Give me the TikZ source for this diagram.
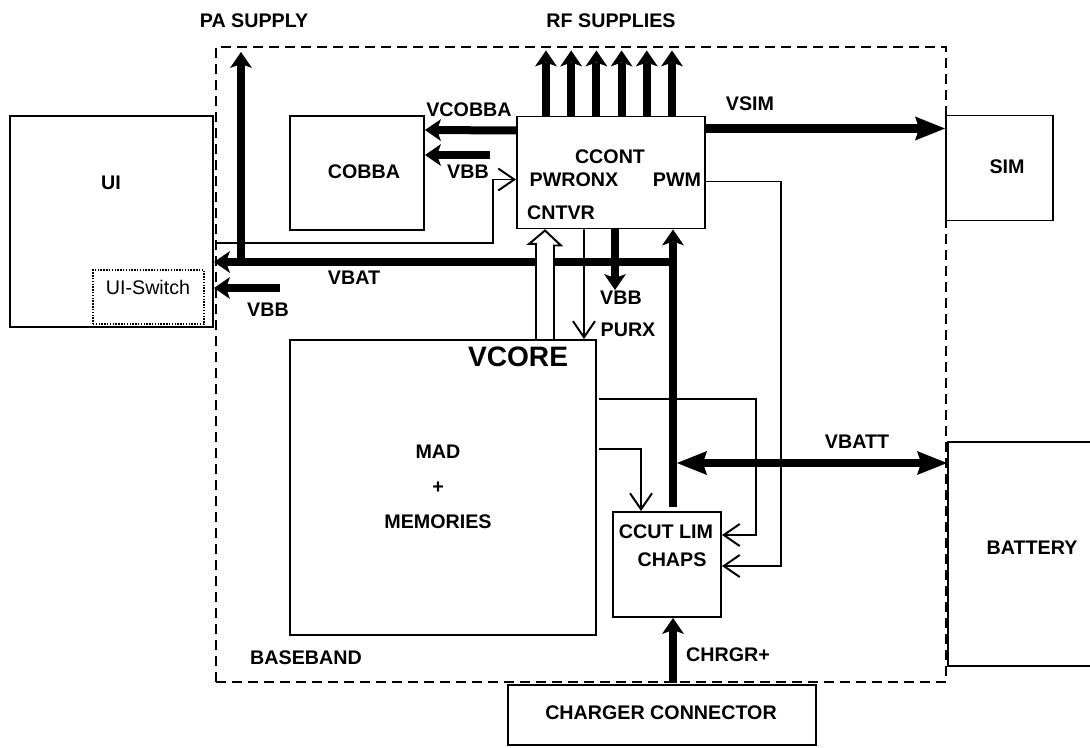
\documentclass[tikz,border=0pt]{standalone}
\usepackage{fontspec}
\setmainfont{Liberation Sans}
\usetikzlibrary{arrows.meta, positioning, calc}
\tikzset{
  blk/.style    = {draw, line width=1.4pt, inner sep=0pt},
  lbl/.style    = {font=\bfseries\fontsize{14}{16}\selectfont, inner sep=0pt},
  pwr/.style    = {line width=0.2cm,
                   -{Stealth[length=0.4cm, width=0.55cm, inset=0.1cm, line width=0pt]}},
  bigpwr/.style = {line width=0.2cm,
                   -{Stealth[length=0.75cm, width=0.6cm, inset=0.1cm, line width=0pt]}},
  twopwr/.style = {line width=0.2cm,
                   {Stealth[length=0.75cm, width=0.6cm, inset=0.1cm, line width=0pt]}-%
                   {Stealth[length=0.75cm, width=0.6cm, inset=0.1cm, line width=0pt]}},
  sig/.style    = {line width=1.4pt, -{Straight Barb[length=0.4cm, width=0.55cm]}},
}

\begin{document}
\begin{tikzpicture}[x=0.025cm, y=-0.025cm]
\useasboundingbox (0,0) rectangle (1090,748);

%% ── boxes ───────────────────────────────────────────────────────────────────
\node[draw, line width=1.6pt, dash pattern=on 0.25cm off 0.15cm, inner sep=0pt,
      minimum width=18.25cm, minimum height=15.875cm] (bb) at (581,364.5) {};
\node[blk, minimum width=5.075cm, minimum height=5.275cm] (ui)    at (111.5,221.5) {};
\node[draw, line width=1pt, dash pattern=on 1pt off 1pt, inner sep=0pt,
      minimum width=2.775cm, minimum height=1.35cm]        (uisw)  at (148.5,297) {};
\node[blk, minimum width=3.35cm, minimum height=2.85cm]    (cobba) at (357,173) {};
\node[blk, minimum width=4.7cm, minimum height=2.8cm]      (ccont) at (611,172.5) {};
\node[blk, minimum width=2.675cm, minimum height=2.625cm]  (sim)   at (999.5,168) {};
\node[blk, minimum width=7.65cm, minimum height=7.375cm]   (mad)   at (443,487.5) {};
\node[blk, minimum width=2.7cm, minimum height=2.625cm]    (ccut)  at (667,564.5) {};
\node[blk, minimum width=4.2cm, minimum height=5.6cm]      (bat)   at (1032,554) {};
\node[blk, minimum width=7.7cm, minimum height=1.5cm]      (chg)   at (662,715) {};

%% ── box texts ───────────────────────────────────────────────────────────────
\node[lbl] (uitxt)    at (111,183) {UI};
\node[font=\fontsize{14}{16}\selectfont, inner sep=0pt] (uiswtxt) at (148,287) {UI-Switch};
\node[lbl] (cobbatxt) at (364,172) {COBBA};
\node[lbl] (cconttxt) at (610,157) {CCONT};
\node[lbl] (pwronx)   at (574,180) {PWRONX};
\node[lbl] (pwm)      at (677,180) {PWM};
\node[lbl] (cntvr)    at (561,213) {CNTVR};
\node[lbl] (simtxt)   at (1007,167) {SIM};
\node[font=\bfseries\fontsize{20}{22}\selectfont, inner sep=0pt] (vcore) at (518,357) {VCORE};
\node[lbl, font=\bfseries\fontsize{14}{24.9}\selectfont, align=center] (madtxt)
  at (438,487) {MAD\\+\\MEMORIES};
\node[lbl] (ccuttxt)  at (666,532) {CCUT LIM};
\node[lbl] (chaps)    at (672,560) {CHAPS};
\node[lbl] (battxt)   at (1032,548) {BATTERY};
\node[lbl] (chgtxt)   at (661,713) {CHARGER CONNECTOR};
\node[lbl] (bbtxt)    at (306,658) {BASEBAND};

%% ── supply labels ───────────────────────────────────────────────────────────
\node[lbl] (palbl)    at (254,21)  {PA SUPPLY};
\node[lbl] (rflbl)    at (611,21)  {RF SUPPLIES};
\node[lbl] (vcobbal)  at (469,110) {VCOBBA};
\node[lbl] (vbbcl)    at (468,172) {VBB};
\node[lbl] (vsiml)    at (750,104) {VSIM};
\node[lbl] (vbatl)    at (354,278) {VBAT};
\node[lbl] (vbbuil)   at (268,310) {VBB};
\node[lbl] (vbbdl)    at (621,298) {VBB};
\node[lbl] (purxl)    at (628,330) {PURX};
\node[lbl] (vbattl)   at (857,442) {VBATT};
\node[lbl] (chrgrl)   at (728,655) {CHRGR+};

%% ── free ends / rails ───────────────────────────────────────────────────────
\coordinate (vbus)   at (673,507);
\coordinate (vbatj)  at (673,262);
\coordinate (pa)     at (241,262);
\coordinate (patop)  at (241,52);
\coordinate (vbbc)   at (490,155);
\coordinate (vbbui)  at (280,288);
\coordinate (vbbd)   at (615,290);
\coordinate (uiout)  at (217,243);
\coordinate (vbattj) at (677,463);
\coordinate (vsimout) at ($(ccont.north east)+(0,13)$);

%% ── power arrows ────────────────────────────────────────────────────────────
\draw[pwr] (vbus) -- (vbus |- ccont.south);
\draw[pwr] (vbatj) -- (vbatj -| ui.east);
\draw[pwr] (pa) -- (patop);
\foreach \i in {0,...,5}
  \draw[pwr] ($(ccont.north west)+({30+25.2*\i},0)$) -- ++(0,-65);
\draw[pwr] ($(ccont.north west)+(0,15)$) -- ($(cobba.north east)+(0,15)$);
\draw[pwr] (vbbc) -- (vbbc -| cobba.east);
\draw[pwr] (vbbui) -- (vbbui -| ui.east);
\draw[pwr] (vbbd |- ccont.south) -- (vbbd);
\draw[bigpwr] (vsimout) -- (vsimout -| sim.west);
\draw[twopwr] (vbattj) -- (vbattj -| bat.west);
\draw[pwr] (vbus |- bb.south) -- (vbus |- ccut.south);

%% ── control lines ───────────────────────────────────────────────────────────
\draw[sig] (uiout) -| ($(ccont.north west)+(-23,64)$) -- ($(ccont.north west)+(0,64)$);
\draw[sig] ($(ccont.south west)+(68,0)$) -- ($(mad.north west)+(295,0)$);
\draw[sig] ($(mad.north east)+(2,60)$) -- ++(157,0) |- ($(ccut.north east)+(0,24)$);
\draw[sig] ($(mad.north east)+(2,110)$) -| ($(ccut.north west)+(29,0)$);
\draw[sig] ($(ccont.north east)+(0,66)$) -- ++(75,0) |- ($(ccut.north east)+(0,55)$);

%% ── CNTVR hollow arrow ──────────────────────────────────────────────────────
\draw[line width=1.4pt, fill=white]
  ($(mad.north west)+(247,0)$) -- ++(0,-95) -- ++(-7,0)
  -- ($(ccont.south west)+(29,1)$) -- ++(16,15) -- ++(-7,0)
  -- ($(mad.north west)+(265,0)$);

\end{tikzpicture}
\end{document}
